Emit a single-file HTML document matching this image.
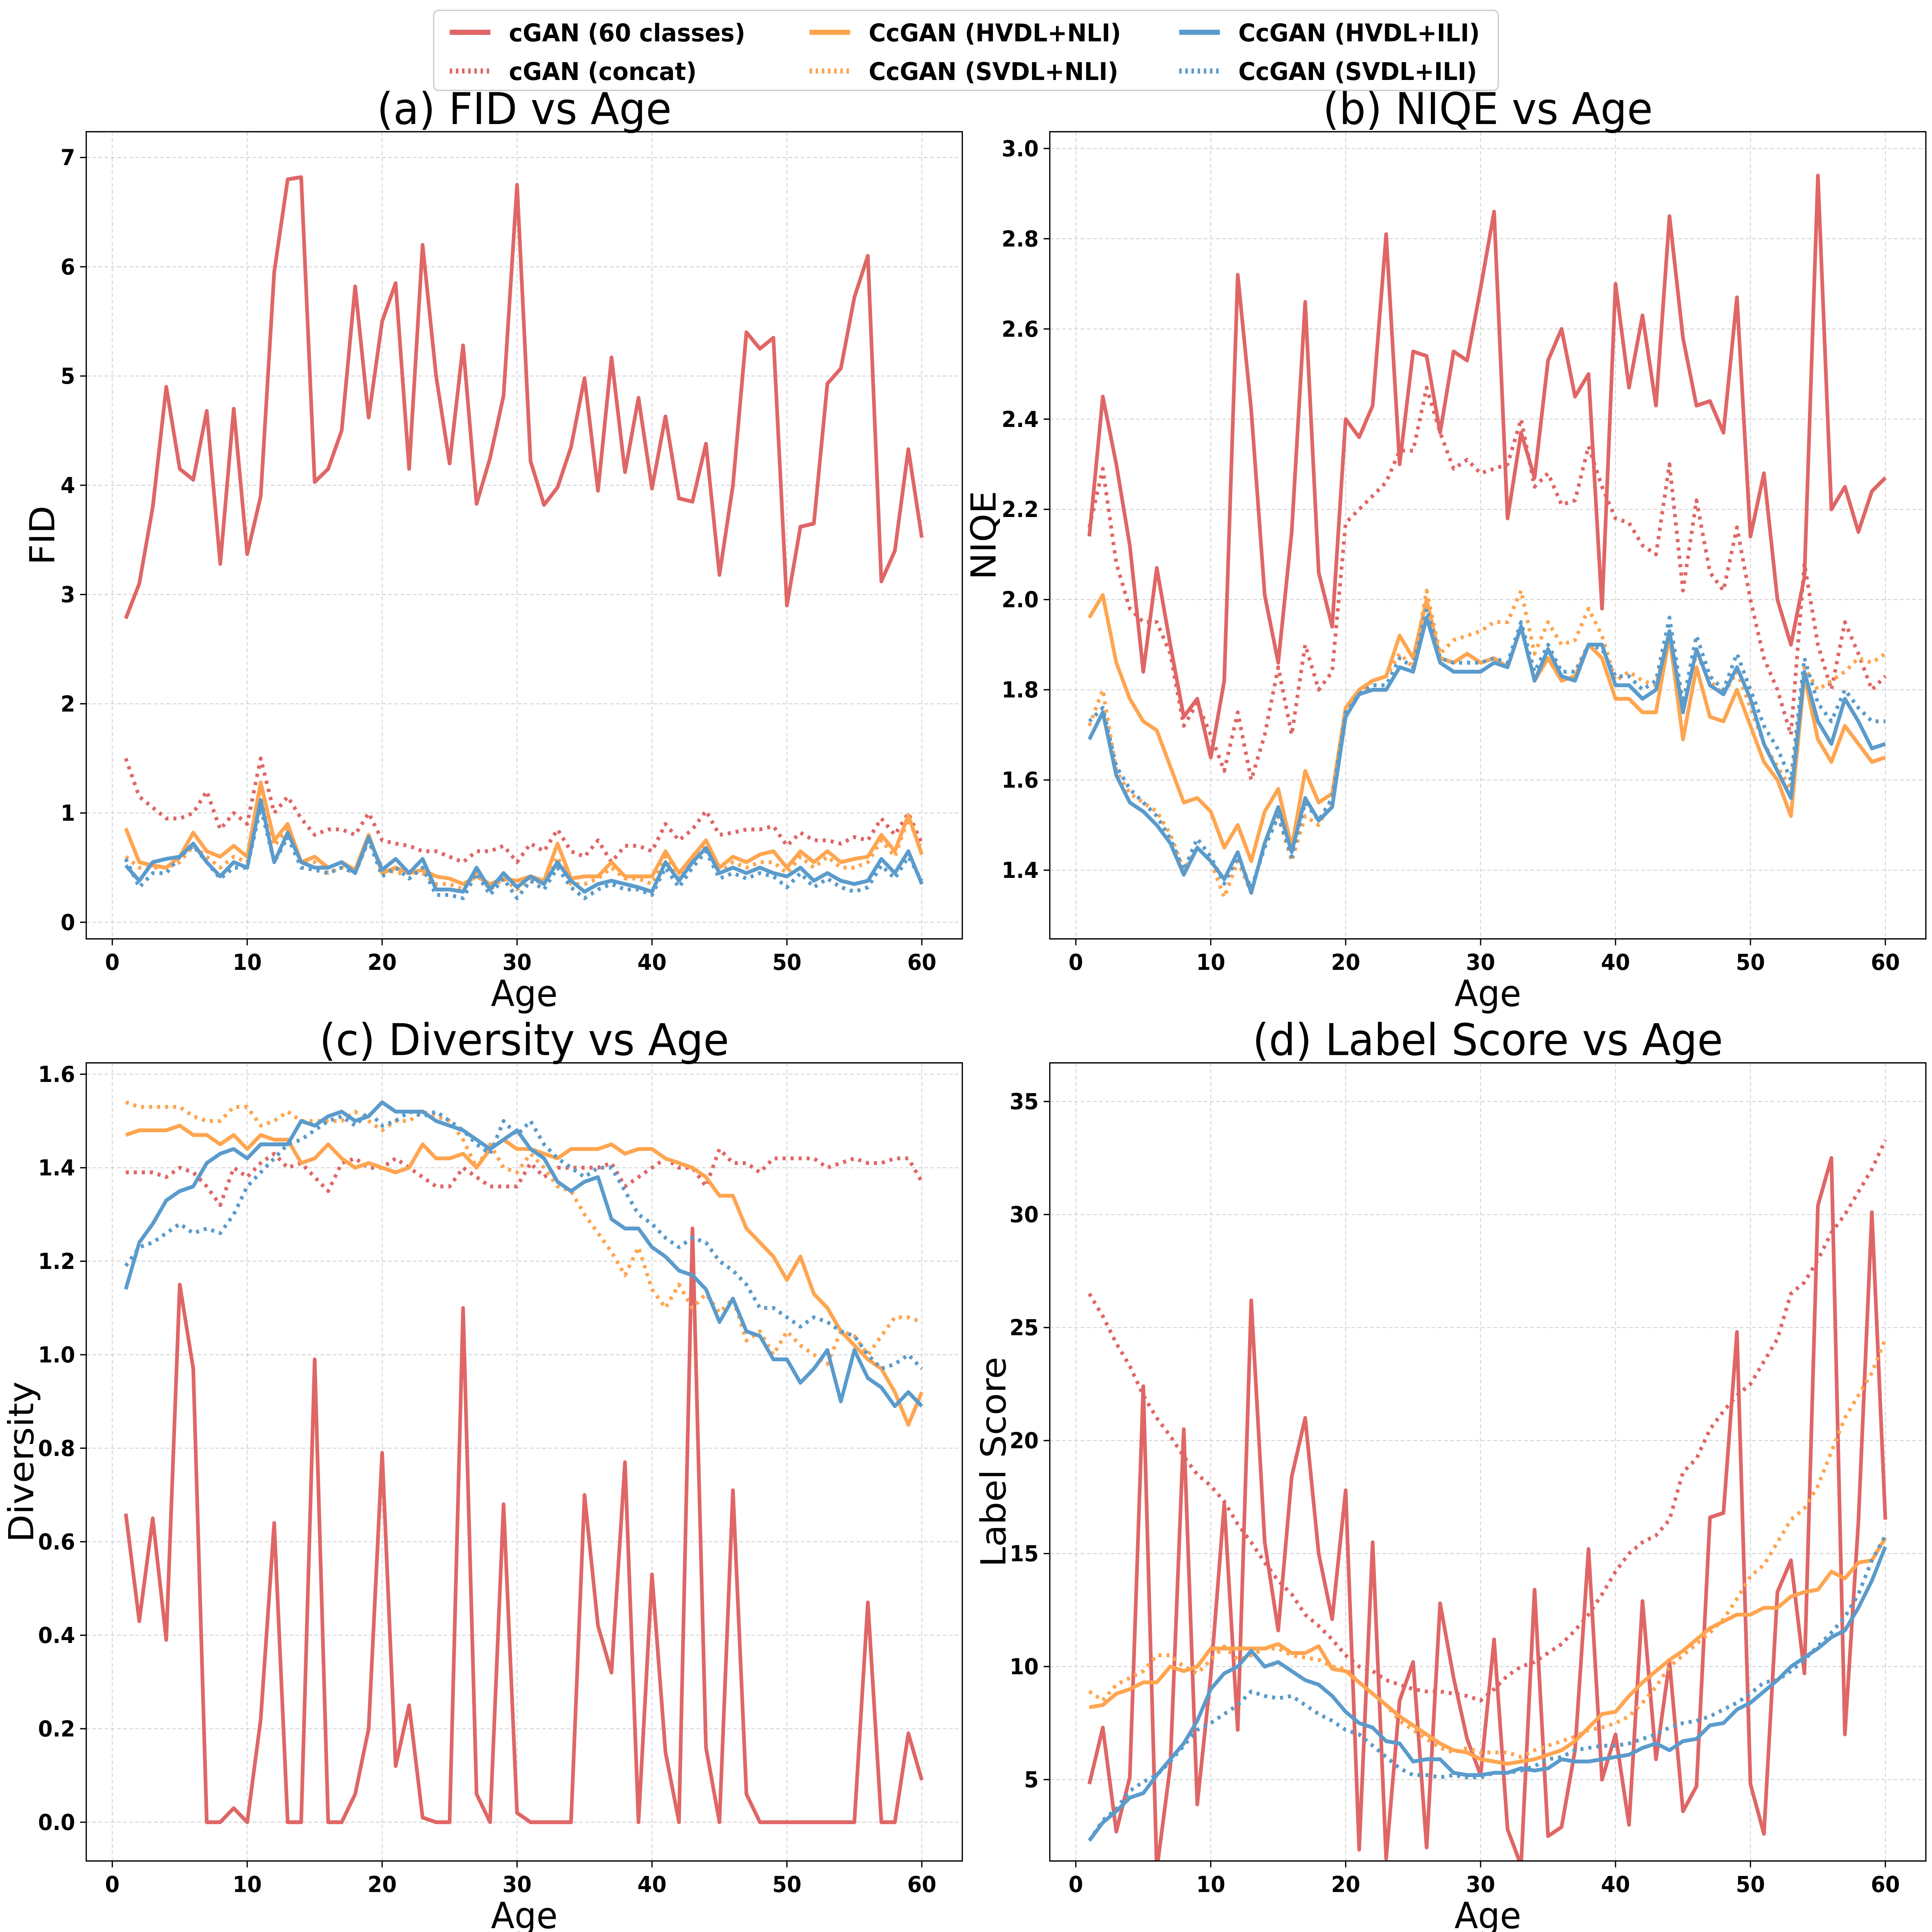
<!DOCTYPE html>
<html><head><meta charset="utf-8"><style>
html,body{margin:0;padding:0;background:#fff;overflow:hidden;width:100vw;height:100vh}
svg{display:block;width:100vw;height:100vh}
text{font-family:"DejaVu Sans","Liberation Sans",sans-serif}
</style></head><body>
<svg id="chart" xmlns="http://www.w3.org/2000/svg" viewBox="0 0 1568 1496" preserveAspectRatio="none">
<rect width="1568" height="1496" fill="#fff"/>
<g>
<rect x="352" y="8" width="864" height="62" rx="4" fill="#fff" stroke="#ccc" stroke-width="1"/>
<line x1="365" y1="25" x2="398" y2="25" stroke="#e06666" stroke-width="4"/>
<text x="413" y="32" font-size="19" font-weight="bold">cGAN (60 classes)</text>
<line x1="365" y1="55" x2="398" y2="55" stroke="#e06666" stroke-width="4" stroke-dasharray="2 3"/>
<text x="413" y="62" font-size="19" font-weight="bold">cGAN (concat)</text>
<line x1="657" y1="25" x2="690" y2="25" stroke="#ffa54f" stroke-width="4"/>
<text x="705" y="32" font-size="19" font-weight="bold">CcGAN (HVDL+NLI)</text>
<line x1="657" y1="55" x2="690" y2="55" stroke="#ffa54f" stroke-width="4" stroke-dasharray="2 3"/>
<text x="705" y="62" font-size="19" font-weight="bold">CcGAN (SVDL+NLI)</text>
<line x1="957" y1="25" x2="990" y2="25" stroke="#5a9bcc" stroke-width="4"/>
<text x="1005" y="32" font-size="19" font-weight="bold">CcGAN (HVDL+ILI)</text>
<line x1="957" y1="55" x2="990" y2="55" stroke="#5a9bcc" stroke-width="4" stroke-dasharray="2 3"/>
<text x="1005" y="62" font-size="19" font-weight="bold">CcGAN (SVDL+ILI)</text>
</g>
</svg>
<script>
const ages = Array.from({length:60},(_,i)=>i+1);
const xTicks = [0,10,20,30,40,50,60];

const fidCgan60=[2.78,3.1,3.8,4.9,4.15,4.05,4.68,3.28,4.7,3.37,3.9,5.95,6.8,6.82,4.03,4.15,4.5,5.82,4.62,5.5,5.85,4.15,6.2,5.0,4.2,5.28,3.83,4.25,4.82,6.75,4.22,3.82,3.98,4.35,4.98,3.95,5.17,4.12,4.8,3.97,4.63,3.88,3.85,4.38,3.18,4.0,5.4,5.25,5.35,2.9,3.62,3.65,4.93,5.07,5.72,6.1,3.12,3.4,4.33,3.52];
const fidConcat=[1.5,1.15,1.05,0.95,0.95,1.0,1.2,0.85,1.0,0.9,1.5,1.0,1.15,0.95,0.8,0.85,0.85,0.8,1.0,0.75,0.72,0.7,0.65,0.65,0.6,0.55,0.65,0.65,0.7,0.55,0.72,0.65,0.85,0.65,0.6,0.75,0.55,0.7,0.7,0.65,0.9,0.75,0.85,1.02,0.8,0.82,0.85,0.85,0.88,0.7,0.82,0.75,0.75,0.72,0.78,0.75,0.95,0.8,1.0,0.72];
const fidHN=[0.86,0.55,0.52,0.5,0.6,0.82,0.65,0.6,0.7,0.6,1.28,0.75,0.9,0.55,0.6,0.5,0.55,0.48,0.8,0.45,0.5,0.45,0.48,0.42,0.4,0.35,0.42,0.35,0.4,0.38,0.42,0.38,0.72,0.4,0.42,0.42,0.55,0.42,0.42,0.42,0.65,0.45,0.6,0.75,0.5,0.6,0.55,0.62,0.65,0.5,0.65,0.55,0.65,0.55,0.58,0.6,0.8,0.65,0.98,0.62];
const fidSN=[0.6,0.5,0.5,0.5,0.55,0.7,0.6,0.5,0.6,0.55,1.25,0.7,0.85,0.55,0.55,0.45,0.5,0.45,0.75,0.5,0.45,0.45,0.45,0.35,0.35,0.3,0.45,0.3,0.4,0.3,0.4,0.35,0.6,0.35,0.35,0.4,0.5,0.4,0.4,0.35,0.6,0.4,0.55,0.7,0.45,0.55,0.5,0.55,0.55,0.45,0.6,0.5,0.6,0.5,0.5,0.55,0.75,0.6,0.95,0.65];
const fidHI=[0.52,0.38,0.55,0.58,0.6,0.72,0.55,0.42,0.55,0.5,1.12,0.55,0.82,0.55,0.5,0.5,0.55,0.45,0.78,0.48,0.58,0.45,0.58,0.3,0.3,0.28,0.5,0.3,0.45,0.32,0.42,0.35,0.55,0.38,0.28,0.35,0.38,0.35,0.32,0.28,0.55,0.38,0.55,0.68,0.45,0.5,0.45,0.5,0.45,0.42,0.5,0.38,0.45,0.38,0.35,0.38,0.58,0.45,0.65,0.35];
const fidSI=[0.58,0.32,0.45,0.45,0.6,0.7,0.55,0.4,0.5,0.5,1.05,0.55,0.78,0.5,0.48,0.45,0.5,0.45,0.75,0.42,0.5,0.4,0.5,0.25,0.25,0.22,0.45,0.25,0.4,0.22,0.38,0.3,0.5,0.32,0.22,0.3,0.35,0.3,0.3,0.25,0.5,0.32,0.5,0.65,0.4,0.45,0.4,0.45,0.42,0.32,0.45,0.32,0.4,0.32,0.28,0.32,0.52,0.4,0.6,0.38];
const fidTicks=[0,1,2,3,4,5,6,7];

const niqeCgan60=[2.14,2.45,2.3,2.12,1.84,2.07,1.9,1.74,1.78,1.65,1.82,2.72,2.42,2.01,1.86,2.15,2.66,2.06,1.94,2.4,2.36,2.43,2.81,2.3,2.55,2.54,2.37,2.55,2.53,2.69,2.86,2.18,2.37,2.27,2.53,2.6,2.45,2.5,1.98,2.7,2.47,2.63,2.43,2.85,2.58,2.43,2.44,2.37,2.67,2.14,2.28,2.0,1.9,2.05,2.94,2.2,2.25,2.15,2.24,2.27];
const niqeConcat=[2.16,2.29,2.08,1.98,1.95,1.95,1.88,1.72,1.77,1.7,1.62,1.75,1.6,1.7,1.85,1.7,1.9,1.8,1.84,2.17,2.2,2.23,2.26,2.33,2.33,2.47,2.37,2.29,2.31,2.28,2.29,2.3,2.4,2.25,2.28,2.21,2.22,2.34,2.25,2.18,2.17,2.12,2.1,2.3,2.02,2.22,2.06,2.02,2.16,2.0,1.87,1.8,1.7,2.08,1.9,1.8,1.95,1.88,1.8,1.83];
const niqeHN=[1.96,2.01,1.86,1.78,1.73,1.71,1.63,1.55,1.56,1.53,1.45,1.5,1.42,1.53,1.58,1.45,1.62,1.55,1.57,1.76,1.8,1.82,1.83,1.92,1.87,2.0,1.87,1.86,1.88,1.86,1.87,1.85,1.94,1.82,1.87,1.82,1.83,1.9,1.87,1.78,1.78,1.75,1.75,1.92,1.69,1.85,1.74,1.73,1.8,1.72,1.64,1.6,1.52,1.83,1.69,1.64,1.72,1.68,1.64,1.65];
const niqeSN=[1.72,1.8,1.62,1.57,1.55,1.53,1.48,1.4,1.45,1.42,1.34,1.42,1.35,1.46,1.52,1.42,1.52,1.5,1.56,1.76,1.79,1.82,1.83,1.88,1.85,2.02,1.88,1.91,1.92,1.93,1.95,1.95,2.02,1.88,1.95,1.9,1.91,1.98,1.92,1.82,1.84,1.82,1.81,1.93,1.76,1.88,1.82,1.79,1.84,1.76,1.68,1.63,1.58,1.85,1.8,1.82,1.84,1.87,1.86,1.88];
const niqeHI=[1.69,1.75,1.61,1.55,1.53,1.5,1.46,1.39,1.45,1.42,1.38,1.44,1.35,1.46,1.54,1.44,1.56,1.51,1.54,1.74,1.79,1.8,1.8,1.85,1.84,1.96,1.86,1.84,1.84,1.84,1.86,1.85,1.94,1.82,1.89,1.83,1.82,1.9,1.9,1.81,1.81,1.78,1.8,1.93,1.75,1.89,1.81,1.79,1.85,1.78,1.68,1.62,1.56,1.84,1.73,1.68,1.78,1.73,1.67,1.68];
const niqeSI=[1.73,1.76,1.63,1.58,1.55,1.52,1.47,1.4,1.47,1.43,1.37,1.43,1.36,1.45,1.52,1.43,1.55,1.51,1.56,1.75,1.79,1.81,1.81,1.87,1.85,1.98,1.87,1.86,1.86,1.86,1.87,1.86,1.95,1.84,1.9,1.84,1.84,1.9,1.89,1.83,1.83,1.8,1.82,1.96,1.77,1.92,1.83,1.8,1.88,1.8,1.72,1.67,1.6,1.87,1.77,1.73,1.8,1.76,1.73,1.73];
const niqeTicks=[1.4,1.6,1.8,2.0,2.2,2.4,2.6,2.8,3.0];

const divCgan60=[0.66,0.43,0.65,0.39,1.15,0.97,0,0,0.03,0,0.22,0.64,0,0,0.99,0,0,0.06,0.2,0.79,0.12,0.25,0.01,0,0,1.1,0.06,0,0.68,0.02,0,0,0,0,0.7,0.42,0.32,0.77,0,0.53,0.15,0,1.27,0.16,0,0.71,0.06,0,0,0,0,0,0,0,0,0.47,0,0,0.19,0.09];
const divConcat=[1.39,1.39,1.39,1.38,1.4,1.39,1.36,1.32,1.4,1.38,1.41,1.43,1.4,1.41,1.38,1.35,1.41,1.42,1.4,1.4,1.42,1.4,1.38,1.36,1.36,1.4,1.38,1.36,1.36,1.36,1.41,1.38,1.4,1.4,1.4,1.4,1.41,1.36,1.38,1.4,1.42,1.4,1.4,1.36,1.44,1.41,1.41,1.39,1.42,1.42,1.42,1.42,1.4,1.41,1.42,1.41,1.41,1.42,1.42,1.37];
const divHN=[1.47,1.48,1.48,1.48,1.49,1.47,1.47,1.45,1.47,1.44,1.47,1.46,1.46,1.41,1.42,1.45,1.42,1.4,1.41,1.4,1.39,1.4,1.45,1.42,1.42,1.43,1.4,1.44,1.46,1.44,1.44,1.43,1.42,1.44,1.44,1.44,1.45,1.43,1.44,1.44,1.42,1.41,1.4,1.38,1.34,1.34,1.27,1.24,1.21,1.16,1.21,1.13,1.1,1.05,1.02,0.99,0.97,0.92,0.85,0.92];
const divSN=[1.54,1.53,1.53,1.53,1.53,1.51,1.5,1.5,1.53,1.53,1.49,1.5,1.52,1.5,1.5,1.5,1.5,1.52,1.5,1.48,1.5,1.5,1.52,1.51,1.5,1.46,1.4,1.45,1.4,1.39,1.43,1.4,1.36,1.35,1.3,1.26,1.22,1.17,1.23,1.14,1.1,1.15,1.1,1.13,1.09,1.12,1.03,1.05,1.0,1.05,1.02,1.0,0.98,1.05,1.04,1.0,1.04,1.08,1.08,1.07];
const divHI=[1.14,1.24,1.28,1.33,1.35,1.36,1.41,1.43,1.44,1.42,1.45,1.45,1.45,1.5,1.49,1.51,1.52,1.5,1.51,1.54,1.52,1.52,1.52,1.5,1.49,1.48,1.46,1.44,1.46,1.48,1.44,1.42,1.37,1.35,1.37,1.38,1.29,1.27,1.27,1.23,1.21,1.18,1.17,1.14,1.07,1.12,1.05,1.04,0.99,0.99,0.94,0.97,1.01,0.9,1.01,0.95,0.93,0.89,0.92,0.89];
const divSI=[1.19,1.23,1.24,1.26,1.28,1.26,1.27,1.26,1.3,1.36,1.39,1.42,1.45,1.46,1.48,1.5,1.51,1.49,1.52,1.49,1.5,1.52,1.51,1.52,1.5,1.48,1.45,1.43,1.5,1.47,1.5,1.45,1.42,1.4,1.38,1.4,1.4,1.35,1.3,1.28,1.25,1.23,1.25,1.24,1.2,1.18,1.15,1.1,1.1,1.08,1.06,1.08,1.07,1.05,1.04,1.0,0.97,0.98,1.0,0.97];
const divTicks=[0.0,0.2,0.4,0.6,0.8,1.0,1.2,1.4,1.6];

const lsCgan60=[4.8,7.3,2.7,5.1,22.4,1.0,5.6,20.5,3.9,9.6,17.2,7.2,26.2,15.5,11.6,18.4,21.0,15.0,12.1,17.8,1.9,15.5,1.5,8.5,10.2,2.0,12.8,9.5,6.8,5.2,11.2,2.8,1.2,13.4,2.5,2.9,6.3,15.2,5.0,7.0,3.0,12.9,5.9,10.2,3.6,4.7,16.6,16.8,24.8,4.8,2.6,13.3,14.7,9.7,30.4,32.5,7.0,16.4,30.1,16.5];
const lsConcat=[26.5,25.5,24.3,23.3,22.0,21.0,20.2,19.3,18.5,18.0,17.3,16.3,15.5,14.6,13.8,13.2,12.3,11.8,11.2,10.5,10.0,9.8,9.4,9.2,9.0,8.9,8.9,8.8,8.7,8.5,9.0,9.6,10.0,10.2,10.6,11.0,11.6,12.3,13.2,14.2,15.0,15.5,15.8,16.5,18.6,19.2,20.5,21.3,22.0,22.5,23.5,24.5,26.5,27.0,28.0,29.2,30.0,31.0,32.0,33.3];
const lsHN=[8.2,8.3,8.8,9.0,9.3,9.3,10.0,9.8,10.0,10.8,10.8,10.8,10.8,10.8,11.0,10.6,10.6,10.9,9.9,9.8,9.3,8.8,8.3,7.8,7.4,7.0,6.6,6.3,6.2,5.9,5.8,5.7,5.8,5.9,6.1,6.3,6.7,7.3,7.9,8.0,8.7,9.3,9.8,10.3,10.7,11.2,11.7,12.0,12.3,12.3,12.6,12.6,13.1,13.3,13.4,14.2,13.9,14.6,14.7,15.7];
const lsSN=[8.9,8.5,9.2,9.5,9.8,10.5,10.5,10.0,9.7,10.3,10.9,10.3,10.5,10.8,10.8,10.5,10.4,10.3,10.0,9.9,9.3,8.8,8.3,7.6,7.2,6.8,6.4,6.2,6.4,6.2,6.2,6.2,6.0,6.3,6.5,6.7,6.9,7.2,7.3,7.5,7.8,8.4,9.1,10.0,10.5,11.0,11.5,12.1,13.0,14.0,14.5,15.5,16.5,17.0,18.0,19.5,21.0,22.0,23.0,24.5];
const lsHI=[2.3,3.1,3.6,4.2,4.4,5.2,5.9,6.6,7.6,9.0,9.7,10.0,10.7,10.0,10.2,9.8,9.4,9.2,8.7,8.0,7.5,7.3,6.7,6.6,5.8,5.9,5.9,5.3,5.2,5.2,5.3,5.3,5.5,5.4,5.5,5.9,5.8,5.8,5.9,6.0,6.1,6.4,6.6,6.3,6.7,6.8,7.4,7.5,8.1,8.4,8.9,9.4,10.0,10.4,10.8,11.3,11.6,12.6,13.8,15.3];
const lsSI=[2.3,3.2,3.7,4.5,4.9,5.2,5.8,6.5,7.2,7.5,7.9,8.3,8.9,8.7,8.6,8.7,8.3,7.9,7.6,7.2,7.0,6.5,6.0,5.5,5.2,5.2,5.1,5.2,5.1,5.1,5.3,5.3,5.4,5.6,5.9,6.0,6.3,6.4,6.5,6.5,6.6,6.8,7.0,7.3,7.5,7.6,7.8,8.1,8.4,8.8,9.3,9.4,9.8,10.3,10.9,11.5,12.2,13.2,14.7,15.8];
const lsTicks=[5,10,15,20,25,30,35];

const NS="http://www.w3.org/2000/svg";
const svg=document.getElementById('chart');
function mk(tag,attrs,parent){const e=document.createElementNS(NS,tag);for(const k in attrs)e.setAttribute(k,attrs[k]);(parent||svg).appendChild(e);return e;}
const RED="#e06666",ORA="#ffa54f",BLU="#5a9bcc";

function panel(id,box,xr,yr,yTicks,fmt,title,ylab,ylx,series){
  const g=mk('g',{});
  
  
  const X=v=>box.x0+(v-xr[0])/(xr[1]-xr[0])*(box.x1-box.x0);
  const Y=v=>box.y1-(v-yr[0])/(yr[1]-yr[0])*(box.y1-box.y0);
  const cp=mk('clipPath',{id:'clip-'+id},g);
  mk('rect',{x:box.x0,y:box.y0,width:box.x1-box.x0,height:box.y1-box.y0},cp);
  xTicks.forEach(t=>{const x=X(t);
    const gl=mk('line',{x1:x,x2:x,y1:box.y0,y2:box.y1,stroke:"#b0b0b0","stroke-width":0.8,"stroke-dasharray":"3 2",opacity:0.5},g);
    
    mk('line',{x1:x,x2:x,y1:box.y1,y2:box.y1+5,stroke:"#000","stroke-width":1},g);
    const tl=mk('text',{x:x,y:box.y1+24,"font-size":17,"font-weight":"bold","text-anchor":"middle"},g);tl.textContent=t;
    });
  yTicks.forEach(t=>{const y=Y(t);
    const gl=mk('line',{x1:box.x0,x2:box.x1,y1:y,y2:y,stroke:"#b0b0b0","stroke-width":0.8,"stroke-dasharray":"3 2",opacity:0.5},g);
    
    mk('line',{x1:box.x0-5,x2:box.x0,y1:y,y2:y,stroke:"#000","stroke-width":1},g);
    const tl=mk('text',{x:box.x0-9,y:y+6,"font-size":17,"font-weight":"bold","text-anchor":"end"},g);tl.textContent=fmt(t);
    });
  series.forEach(s=>{
    const d=s.data.map((v,i)=>(i?'L':'M')+X(ages[i]).toFixed(2)+' '+Y(v).toFixed(2)).join(' ');
    const p=mk('path',{d:d,fill:"none",stroke:s.c,"stroke-width":3,"stroke-linejoin":"round","clip-path":"url(#clip-"+id+")"},g);
    if(s.dot)p.setAttribute('stroke-dasharray','2.5 4');
    
    
  });
  mk('rect',{x:box.x0,y:box.y0,width:box.x1-box.x0,height:box.y1-box.y0,fill:"none",stroke:"#000","stroke-width":1},g);
  const tt=mk('text',{x:(box.x0+box.x1)/2,y:box.y0-6,"font-size":34,"text-anchor":"middle"},g);tt.textContent=title;
  
  const xl=mk('text',{x:(box.x0+box.x1)/2,y:box.y1+52,"font-size":28,"text-anchor":"middle"},g);xl.textContent="Age";
  
  const cy=(box.y0+box.y1)/2;
  const yl=mk('text',{x:ylx,y:cy,"font-size":28,"text-anchor":"middle",transform:`rotate(-90 ${ylx} ${cy})`},g);yl.textContent=ylab;
  
}
function ser(a,b,c,d,e,f){return [
  {n:'cgan-60',data:a,c:RED},{n:'cgan-concat',data:b,c:RED,dot:1},
  {n:'hvdl-nli',data:c,c:ORA},{n:'svdl-nli',data:d,c:ORA,dot:1},
  {n:'hvdl-ili',data:e,c:BLU},{n:'svdl-ili',data:f,c:BLU,dot:1}];}

const XR=[-1.93,63.0];
panel('fid',{x0:70,x1:781,y0:102,y1:727},XR,[-0.152,7.236],fidTicks,t=>t,"(a) FID vs Age","FID",44,ser(fidCgan60,fidConcat,fidHN,fidSN,fidHI,fidSI));
panel('niqe',{x0:852,x1:1563,y0:102,y1:727},XR,[1.2477,3.0372],niqeTicks,t=>t.toFixed(1),"(b) NIQE vs Age","NIQE",808,ser(niqeCgan60,niqeConcat,niqeHN,niqeSN,niqeHI,niqeSI));
panel('div',{x0:70,x1:781,y0:823,y1:1441},XR,[-0.0829,1.6243],divTicks,t=>t.toFixed(1),"(c) Diversity vs Age","Diversity",27,ser(divCgan60,divConcat,divHN,divSN,divHI,divSI));
panel('ls',{x0:852,x1:1563,y0:823,y1:1441},XR,[1.4,36.71],lsTicks,t=>t,"(d) Label Score vs Age","Label Score",816,ser(lsCgan60,lsConcat,lsHN,lsSN,lsHI,lsSI));
</script>
</body></html>
